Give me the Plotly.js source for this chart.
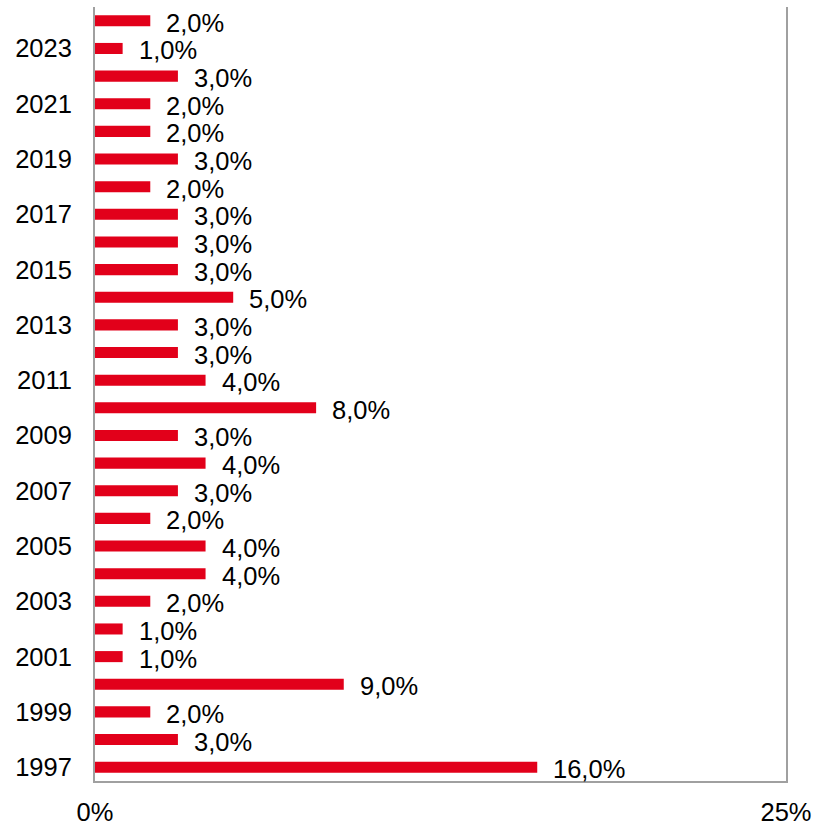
<!DOCTYPE html>
<html>
<head>
<meta charset="utf-8">
<script src="https://cdn.plot.ly/plotly-3.0.1.min.js"></script>
<style>html,body{margin:0;padding:0;background:#fff;}#chart{width:815px;height:826px;}</style>
</head>
<body>
<div id="chart"></div>
<script>
const years = [1997,1998,1999,2000,2001,2002,2003,2004,2005,2006,2007,2008,2009,2010,2011,2012,2013,2014,2015,2016,2017,2018,2019,2020,2021,2022,2023,2024];
const values = [16,3,2,9,1,1,2,4,4,2,3,4,3,8,4,3,3,5,3,3,3,2,3,2,2,3,1,2];
const yTickYears = [1997,1999,2001,2003,2005,2007,2009,2011,2013,2015,2017,2019,2021,2023];
const xTickVals = [0,25];
const xTickText = ['0%','25%'];
const labels = values.map(v => v.toFixed(1).replace('.', ',') + '%');

const font = {family: 'Liberation Sans, Arial, sans-serif', size: 25.5, color: '#000'};

const trace = {
  type: 'bar',
  orientation: 'h',
  x: values,
  y: years,
  marker: {color: '#E2001A'},
  hoverinfo: 'none'
};

const annotations = values.map((v, i) => ({
  x: v, y: years[i], xref: 'x', yref: 'y',
  text: labels[i], showarrow: false,
  xanchor: 'left', yanchor: 'middle',
  xshift: 14, yshift: -2,
  font: font
}));

const layout = {
  width: 815, height: 826,
  margin: {l: 95, r: 29, t: 7, b: 45, pad: 0},
  paper_bgcolor: '#fff', plot_bgcolor: '#fff',
  bargap: 0.6,
  showlegend: false,
  font: font,
  xaxis: {
    range: [0, 25], tickvals: xTickVals, ticktext: xTickText,
    showgrid: false, zeroline: false,
    showline: true, linecolor: '#a0a0a0', linewidth: 2,
    ticks: '', ticklabelstandoff: 7,
    tickfont: font, fixedrange: true
  },
  yaxis: {
    range: [1996.5, 2024.5], tickvals: yTickYears, ticktext: yTickYears.map(String),
    showgrid: false, zeroline: false,
    showline: true, mirror: true, linecolor: '#a0a0a0', linewidth: 2,
    ticks: '', ticklabelstandoff: 16,
    tickfont: font, fixedrange: true
  },
  annotations: annotations
};

Plotly.newPlot('chart', [trace], layout, {displayModeBar: false, staticPlot: true});
</script>
</body>
</html>
